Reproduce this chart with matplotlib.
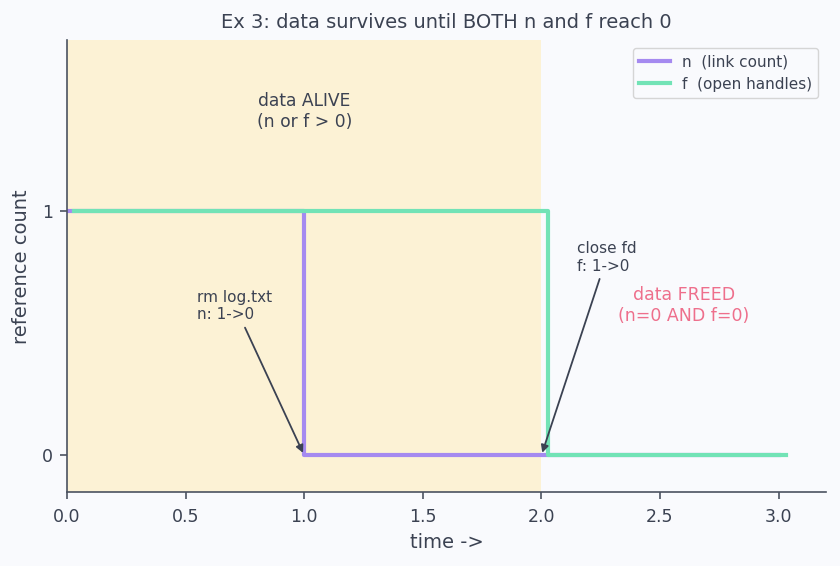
import matplotlib
matplotlib.use("Agg")
import matplotlib.pyplot as plt

plt.rcParams['font.family'] = ['DejaVu Sans']

# data
t_n = [0.0, 1.0, 2.0, 3.0]
n_vals = [1, 0, 0, 0]
t_f = [0.03, 1.03, 2.03, 3.03]
f_vals = [1, 1, 0, 0]
alive_span = (0.0, 2.0)
yticks = [0, 1]
xticks = [0.0, 0.5, 1.0, 1.5, 2.0, 2.5, 3.0]
xticklabels = ["0.0", "0.5", "1.0", "1.5", "2.0", "2.5", "3.0"]

text_c = "#3b4252"
spine_c = "#4b5260"
bg = "#f9fafd"

fig = plt.figure(figsize=(8.4, 5.66), dpi=100, facecolor=bg)
ax = fig.add_axes([0.0798, 0.1307, 0.9035, 0.798])
ax.set_facecolor(bg)

ax.axvspan(*alive_span, color="#fcf2d5", zorder=0, lw=0)
ax.step(t_n, n_vals, where="post", color="#a58af0", lw=3, label="n  (link count)", zorder=2)
ax.step(t_f, f_vals, where="post", color="#72e3b6", lw=3, label="f  (open handles)", zorder=3)

ax.set_xlim(0, 3.2)
ax.set_ylim(-0.15, 1.7)
ax.set_yticks(yticks)
ax.set_xticks(xticks)
ax.set_xticklabels(xticklabels)

for s in ["top", "right"]:
    ax.spines[s].set_visible(False)
for s in ["left", "bottom"]:
    ax.spines[s].set_color(spine_c)
    ax.spines[s].set_linewidth(1.2)
ax.tick_params(colors=spine_c, labelcolor=text_c, labelsize=12.5, length=5, width=1.2)
ax.tick_params(axis="x", pad=6.5)
ax.tick_params(axis="y", pad=5)

ax.set_xlabel("time ->", fontsize=14, color=text_c, labelpad=5)
ax.set_ylabel("reference count", fontsize=14, color=text_c, labelpad=8)
ax.set_title("Ex 3: data survives until BOTH n and f reach 0", fontsize=14, color=text_c, pad=9)

ax.text(1.0, 1.41, "data ALIVE\n(n or f > 0)", ha="center", va="center", fontsize=12.3, color=text_c)
ax.text(2.6, 0.615, "data FREED\n(n=0 AND f=0)", ha="center", va="center", fontsize=12.5, color="#ee6f8c")

ax.annotate("rm log.txt\nn: 1->0", xy=(1.0, 0.0), xytext=(0.55, 0.545),
            fontsize=11, color=text_c, ha="left", va="bottom",
            arrowprops=dict(arrowstyle="-|>", color=text_c, lw=1.3))
ax.annotate("close fd\nf: 1->0", xy=(2.0, 0.0), xytext=(2.15, 0.745),
            fontsize=11, color=text_c, ha="left", va="bottom",
            arrowprops=dict(arrowstyle="-|>", color=text_c, lw=1.3))

leg = ax.legend(loc="upper right", fontsize=11, frameon=True, fancybox=True,
                bbox_to_anchor=(1.0, 1.0))
leg.get_frame().set_facecolor(bg)
leg.get_frame().set_edgecolor("#cccccc")
for tx in leg.get_texts():
    tx.set_color(text_c)

fig.savefig("out.png", dpi=100, facecolor=bg)
